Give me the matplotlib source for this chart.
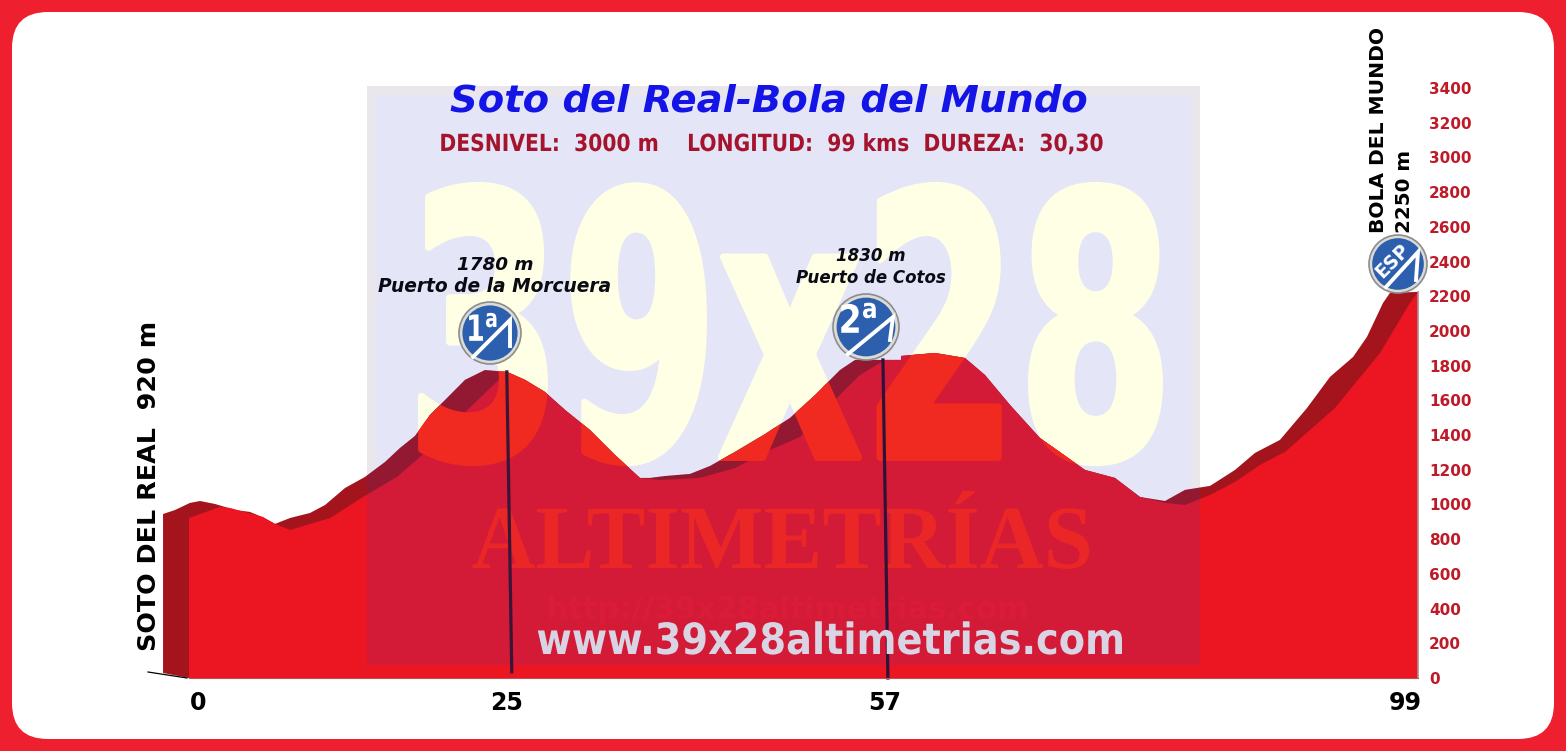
import matplotlib
matplotlib.use("Agg")
import matplotlib.pyplot as plt
from matplotlib.patches import Circle, FancyBboxPatch, Polygon, Rectangle
from matplotlib.patheffects import AbstractPathEffect
from matplotlib.transforms import Affine2D

# perfil: borde trasero (oscuro)
back_km = [-2.09, -1.13, 0.08, 0.89, 2.09, 3.71, 4.91, 5.88, 6.93, 8.14, 9.75, 10.96,
           12.57, 14.18, 15.79, 17.0, 18.2, 19.41, 20.62, 22.23, 23.84, 25.62, 27.07,
           28.68, 30.29, 32.3, 34.32, 36.33, 37.13, 38.34, 40.36, 41.97, 43.98, 46.4,
           48.41, 50.43, 52.44, 53.65, 56.07, 57.36, 57.36, 60.09, 62.51, 64.12, 66.13,
           68.55, 72.18, 74.59, 76.61, 78.62, 80.23, 82.25, 84.26, 85.87, 87.88, 90.06,
           91.91, 93.77, 94.89, 96.18, 96.74, 99.0]
back_m = [945, 968, 1009, 1020, 1003, 968, 957, 928, 888, 922, 951, 997,
          1095, 1159, 1245, 1326, 1395, 1516, 1602, 1718, 1775, 1764, 1718,
          1648, 1545, 1429, 1285, 1153, 1153, 1164, 1176, 1222, 1303, 1406,
          1499, 1631, 1775, 1833, 1833, 1833, 1856, 1873, 1844, 1746, 1574,
          1383, 1199, 1153, 1043, 1020, 1084, 1107, 1199, 1297, 1372, 1556,
          1735, 1850, 1966, 2161, 2219, 2225]

# perfil: cara delantera (rojo vivo)
front_km = [0.0, 2.5, 3.3, 5.96, 6.93, 8.14, 11.36, 14.02, 16.76, 18.61, 21.02, 23.68,
            25.62, 27.07, 28.68, 30.29, 32.3, 34.32, 36.33, 37.94, 41.16, 43.98, 46.8,
            49.22, 51.63, 54.05, 56.07, 57.36, 57.36, 60.09, 62.51, 64.12, 66.13, 68.55,
            72.18, 74.59, 76.61, 78.62, 80.23, 82.25, 84.26, 86.27, 88.29, 90.3, 92.31,
            95.94, 98.35, 99.0]
front_m = [922, 986, 980, 928, 888, 853, 922, 1043, 1159, 1274, 1447, 1631,
           1764, 1718, 1648, 1545, 1429, 1285, 1153, 1141, 1153, 1210, 1314,
           1389, 1574, 1746, 1833, 1833, 1856, 1873, 1844, 1746, 1574, 1383,
           1199, 1153, 1043, 1009, 997, 1055, 1130, 1228, 1303, 1429, 1556,
           1873, 2161, 2225]

tick_m = list(range(0, 3600, 200))
tick_km_labels = ["0", "25", "57", "99"]
# los rotulos no caen justo sobre su km en el original
TICK_KM_POS = [0.72, 25.6, 56.07, 97.95]

col1_km = [25.6, 26.0]
col1_m = [1764, 35]
col2_km = [55.9, 56.3]
col2_m = [1833, 0]

W, H = 1566, 751
RED = "#ee1f2e"
FRONT = "#ec1522"
DARK = "#a3141d"
LAVENDER = "#e4e6f8"
TICK_RED = "#bf1a28"

fig = plt.figure(figsize=(W / 100, H / 100), dpi=100, facecolor=RED)
ax = fig.add_axes([163 / W, (H - 678) / H, 1255 / W, 590 / H])
ax.patch.set_visible(False)

# coordenadas en pixeles de la imagen para lo decorativo
PX = Affine2D().scale(1, -1).translate(0, H)


class Squeeze(AbstractPathEffect):
    """Estrecha el texto en horizontal; ademas lo pinta como path, asi respeta clip_path."""

    def __init__(self, sx, cx, stroke=0):
        super().__init__()
        self.extra = Affine2D().translate(-cx, 0).scale(sx, 1).translate(cx, 0)
        self.stroke = stroke

    def draw_path(self, renderer, gc, tpath, affine, rgbFace=None):
        gc0 = renderer.new_gc()
        gc0.copy_properties(gc)
        if self.stroke:
            gc0.set_linewidth(self.stroke)
            gc0.set_foreground(rgbFace)
        renderer.draw_path(gc0, tpath, affine + self.extra, rgbFace)
        gc0.restore()


def px_text(x, y, s, sx=None, stroke=0, **kw):
    kw.setdefault("ha", "center")
    kw.setdefault("va", "center")
    kw.setdefault("clip_on", False)
    t = ax.text(x, y, s, transform=PX, **kw)
    if sx is not None:
        t.set_path_effects([Squeeze(sx, x, stroke)])
    return t


def px_patch(p):
    p.set_transform(PX)
    ax.add_patch(p)
    p.set_clip_on(False)
    return p


px_patch(FancyBboxPatch((12, 12), 1542, 727, boxstyle="round,pad=0,rounding_size=36",
                        fc="white", ec="none", zorder=0))

# marca de agua, parte sobre el cielo
px_patch(Rectangle((367, 86), 833, 579, fc="#e9e7ec", ec="none", zorder=1))
px_patch(Rectangle((376, 96), 815, 560, fc=LAVENDER, ec="none", zorder=1))
px_text(790, 356, "39x28", sx=0.61, stroke=5, fontsize=264, weight="bold", color="#ffffe6", zorder=2)

# perfil
back_poly = Polygon(list(zip(back_km, back_m)) + [(99.0, 0), (0.0, 0), (-2.09, 29)],
                    closed=True, fc=DARK, ec="none", zorder=3)
ax.add_patch(back_poly)
back_poly.set_clip_on(False)
front_poly = Polygon(list(zip(front_km, front_m)) + [(99.0, 0), (0.0, 0)],
                     closed=True, fc=FRONT, ec="none", zorder=4)
ax.add_patch(front_poly)
front_poly.set_clip_on(False)

# marca de agua, parte sobre el perfil
over = px_patch(Rectangle((367, 86), 833, 579, fc="#2f3ec8", alpha=0.13, ec="none", zorder=5))
over.set_clip_on(True)
over.set_clip_path(back_poly)
wm = [
    px_text(790, 356, "39x28", sx=0.61, stroke=5, fontsize=264, weight="bold", color="#f02a20", zorder=6),
    px_text(782, 546, "ALTIMETRÍAS", sx=0.98, fontsize=65, family="Liberation Serif", weight="bold",
            color="#ea2626", zorder=6),
    px_text(787, 610, "http://39x28altimetrias.com", sx=1.0, fontsize=22, weight="bold",
            color="#db1c38", zorder=6),
]
for t in wm:
    t.set_clip_on(True)
    t.set_clip_path(back_poly)

# lineas de los puertos
ax.plot(col1_km, col1_m, color="#3a1538", lw=2.3, zorder=7, clip_on=False)
ax.plot(col2_km, col2_m, color="#2e1238", lw=2.3, zorder=7, clip_on=False)
ax.plot([148, 187], [672, 678], color="black", lw=0.9, transform=PX, zorder=7, clip_on=False)
ax.plot([1418, 1418], [292, 678], color="#b08a90", lw=1.2, transform=PX, zorder=7, clip_on=False)
ax.plot([189, 1418], [678, 678], color="#c05058", lw=0.8, transform=PX, zorder=7, clip_on=False)


def sign(cx, cy, r, low, tip, foot, label, lx, ly, fs, rot=0, sx=None):
    px_patch(Circle((cx, cy), r, fc="#dcdcd4", ec="#8c8c90", lw=1.2, zorder=8))
    px_patch(Circle((cx, cy), r * 0.89, fc="#2c5fae", ec="none", zorder=8))
    # diagonal blanca y pico de la montana
    ax.plot([low[0], tip[0], foot[0]], [low[1], tip[1], foot[1]], color="white", lw=2.8,
            transform=PX, zorder=9, clip_on=False, solid_joinstyle="miter")
    px_text(lx, ly, label, sx=sx, color="white", weight="bold", fontsize=fs, rotation=rot, zorder=10)


plt.rcParams["mathtext.default"] = "bf"
sign(490, 333, 31, (473, 357), (510, 320), (510, 346), r"1$^{a}$", 482, 331, 26, sx=0.75)
sign(866, 327, 33, (848, 354), (893, 317), (890, 340), r"2$^{a}$", 858, 322, 28, sx=0.85)
sign(1398, 264, 29, (1386, 287), (1418, 252), (1416, 280), "ESP", 1393, 261, 13.5, rot=45)

# titulos
px_text(769, 101, "Soto del Real-Bola del Mundo", fontsize=27.7, weight="bold", style="italic",
        color="#1414e6", zorder=11)
px_text(772, 144, "DESNIVEL:  3000 m    LONGITUD:  99 kms  DUREZA:  30,30", sx=0.86, fontsize=17,
        weight="bold", color="#a5142c", zorder=11)
px_text(495, 265, "1780 m", fontsize=13.2, weight="bold", style="italic", color="#0a0a14", zorder=11)
px_text(495, 286, "Puerto de la Morcuera", fontsize=13.4, weight="bold", style="italic",
        color="#0a0a14", zorder=11)
px_text(871, 256, "1830 m", fontsize=12, weight="bold", style="italic", color="#0a0a14", zorder=11)
px_text(871, 278, "Puerto de Cotos", fontsize=12, weight="bold", style="italic",
        color="#0a0a14", zorder=11)
px_text(149, 486, "SOTO DEL REAL  920 m", fontsize=18.3, weight="bold", rotation=90, color="black",
        zorder=11)
px_text(1379, 233, "BOLA DEL MUNDO", fontsize=14.6, weight="bold", rotation=90, color="black",
        va="bottom", zorder=11)
px_text(1405, 233, "2250 m", fontsize=14.3, weight="bold", rotation=90, color="black",
        va="bottom", zorder=11)
px_text(830.5, 642, "www.39x28altimetrias.com", sx=0.89, fontsize=31, weight="bold",
        color="#d8d4e4", zorder=11)

# ejes
ax.set_xlim(-2.094, 99)
ax.set_ylim(0, 3400)
for s in ax.spines.values():
    s.set_visible(False)
ax.yaxis.tick_right()
ax.set_yticks(tick_m)
ax.set_yticklabels([str(v) for v in tick_m], fontsize=11, fontweight="bold", color=TICK_RED)
ax.set_xticks(TICK_KM_POS)
ax.set_xticklabels(tick_km_labels, fontsize=17, fontweight="bold", color="black")
ax.tick_params(axis="y", length=0, pad=8)
ax.tick_params(axis="x", length=0, pad=9)

fig.savefig("out.png", dpi=100, facecolor=RED)
